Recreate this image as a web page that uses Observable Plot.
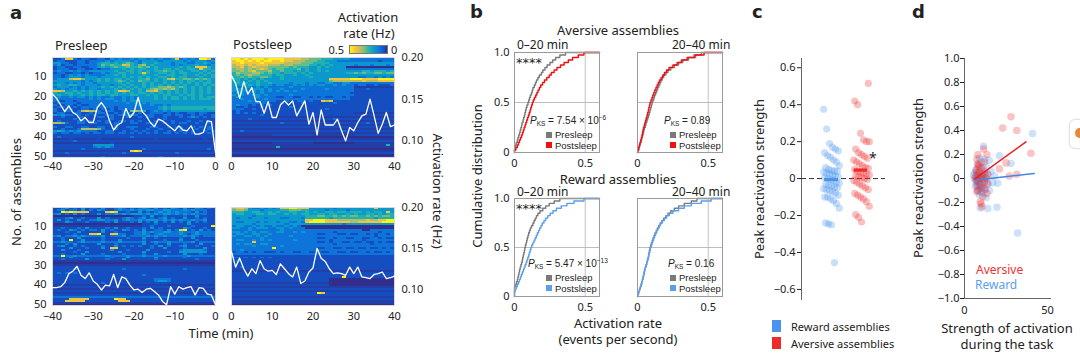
<!DOCTYPE html>
<html><head><meta charset="utf-8">
<script src="https://cdn.jsdelivr.net/npm/d3@7"></script>
<script src="https://cdn.jsdelivr.net/npm/@observablehq/plot@0.6"></script>
<style>
body{margin:0;background:#fff;}
#root{position:relative;width:1080px;height:354px;overflow:hidden;font-family:"Noto Sans",sans-serif;color:#222;}
.t{position:absolute;white-space:nowrap;line-height:1;}
.sq{position:absolute;}
</style></head><body><div id="root"></div>
<script>
// ---------------- DATA ----------------
// heatmap digits: level index per assembly (row) and 1-min bin (column)
const levelsHz = [0.004, 0.022, 0.04, 0.1, 0.17, 0.23, 0.29, 0.35, 0.42, 0.49];
const parulaStops = ["#352a87","#0363e1","#1480d6","#06a2ca","#2eb7a4","#87bf77","#d1bb59","#fec832","#f9fb0e"];

const presleepAversive = [
"2238832332|2332434334|3443434334|8343439983","2332223323|3334344443|4344443444|4434344434",
"4433223323|3455454565|4354454443|4443344543","3423323333|3465655875|4674544443|4344454434",
"2332233223|3454565565|5656454444|4545488854","2333223322|3233444545|4554454554|5445548554",
"3433434334|4444454455|4545455655|4544554545","2332233232|3343445545|4585445545|4554445454",
"3323434343|3334454544|4454454455|4454454545","3323444344|4344444545|4545445545|4554445445",
"3444788644|4545455454|4556454578|5566565654","4444444343|4545456545|4655454545|4545545454",
"3443434344|3444445454|4454544545|4545454554","4544554344|4344344545|4454545454|5454454545",
"3444343434|4454545454|5454556676|5654545454","4343443434|4344454545|4545676767|5454545454",
"8874454545|4545458874|4547785454|5454545454","5445545445|4545454545|4554545454|5454545454",
"4544544545|4554554445|5445454554|4545545444","3433434434|3433433434|3444454545|5454545455",
"3333333334|3434433434|3444454545|5454545554","3223323333|3333343434|4444444444|4444444444",
"2333332333|3333333343|4343444444|4444444444","3223323223|3333333333|3433433434|4444444444",
"2332232333|3333323333|3333334545|5555555555","3223322332|3232323333|3333334545|5555555455",
"3223323787|7323322326|7652343434|4444444444","2332233223|2332232332|2322333232|3223323322",
"4343323232|3223323434|3223322332|3322323223","2232223322|2332322232|2323322322|2323432323",
"2222232222|2222322222|2222222322|2222222222","2322223323|2323223323|2322232223|2223223222",
"7763223322|3223233223|3223322323|2332232232","2222222222|2222232222|2222222222|2222222222",
"3223322332|2332232233|3222332232|3322323232","2232223777|7632232223|2223223222|2322232232",
"4543434333|3223322322|3232232232|2322322323","3233233232|3323323323|2323232332|3232323232",
"2222222222|2222222222|2222222222|2222222222","2322222222|2222222223|2222222222|2222222222",
"1111211111|1211111111|1111121111|1111111211","2222232222|2222222222|2222222222|2222222222",
"1111111111|1111211111|1111111111|1111111111","2222222222|4444422222|2222222222|2222222222",
"2222222222|3434322222|2222222222|2222222222","2222222322|2222222222|2232222222|2222222232",
"1111111111|1111111118|9811111111|1111111111","2223222222|2222222322|2222222222|3222222222",
"1111111111|1111111111|1111111111|1111111111","2222222222|2232222222|2222223222|2222222222"];

const postsleepAversive = [
"9989899989|9998888776|6655544443|3333333333","8998989899|8898877766|6554443333|3333332333",
"8898888988|8887777666|5555444444|4444444444","7887878887|7767766665|5454544444|3444344434",
"7786787776|6666565554|4545444400|0000000000","6776767876|5665556454|4544444433|3333333333",
"6676786667|5565545454|4545444444|4455455545","5766677656|5545554545|4444444455|6565566566",
"5656766555|4554454454|4444444444|4444444444","5565655665|4454444445|4444444444|4334434343",
"5545454544|4454444444|4444888889|9988889999","4544545454|4444444444|4444677777|7787778888",
"4545445445|4444344434|4334433443|3333333333","4444545444|3443343434|3443343433|2332232223",
"4334434343|3333433333|3333333333|1111111111","4443344434|3343333433|3334333333|2223222222",
"4444343434|3434343333|3333333333|2222222222","3443343433|3333333333|3333333332|2222222222",
"4343344343|3333433333|3333333333|2222222222","3433334333|3223322332|3232233232|2222222222",
"3343333343|3333333333|3333333332|2222222222","3333433333|3223223323|2287822222|2222222222",
"3333333332|2232222322|2222232222|2222222222","3433232323|2222222222|2222222222|2222222222",
"3223222322|2222322222|2222222222|2222222222","3332232222|2222222222|2223222222|2222222222",
"2322222222|2222222222|2222222222|2222222222","2323232222|2222222222|2222222222|1111111111",
"2222222322|2222222222|2222222222|2222222222","2222222222|1111111111|1111111111|1111111111",
"2222322222|2222222222|2222232222|2222222222","1111111111|1111111111|1111111111|1111111111",
"2222222222|2232222222|2222222222|2223222222","1111111111|1111111111|1111111111|1111111111",
"2222222222|2222222222|2222222222|2222222222","1111111111|1111111111|1111111111|1111111111",
"2232222222|2222222222|2222222322|2222222222","1111111111|1111111111|1111111111|1111111111",
"1111111111|2222222222|1111111111|2222222222","0000000000|0000000000|0000000000|0000000000",
"1111111111|1111111111|1111111111|1111111111","2222222222|2222222222|2222222222|2222222222",
"0000000000|1111111111|0000000000|1111111111","1111111111|1111111111|1111111111|1111111151",
"1111111111|1511111111|1111111111|1111111111","0000000000|0000000000|0000000000|0000000000",
"1111111111|1111111111|1111111111|1111111111","2222222222|2222222222|2222222222|2222222222",
"0000000000|0000000000|0000000000|0000000000","1111111111|1111111111|1111111111|1111111111"];

const presleepReward = [
"2234232423|3242234323|2343242324|3242243232","2342332423|2432234334|3434433443|3343433322",
"2298988882|2228982232|2423234343|4333242322","3423242322|2423343434|4434343443|4343433322",
"0000000000|0000000000|2232422322|2232242222","2223422322|2423222343|2342323423|2242232322",
"2423224223|3443342343|3434443434|3433433422","2224322232|2223242223|2423242324|2324232322",
"0000000000|0000000000|0022232222|2224222222","1111111111|1111111111|1122322232|2222322229",
"2232223242|2223242232|2232423222|2243222322","2322432323|3242322432|3242233242|3892324232",
"2223224222|2242232222|3343433443|3433343333","2222232228|8922883322|3343234333|3432343333",
"3423343433|3342333423|3334343433|3343432333","2232224222|2232222232|2242232222|2322422222",
"2232922422|2232224222|2232222322|2422232222","3343323433|3343334333|3342343343|3333423333",
"2223242222|2422232222|2242232242|2232224222","2342232322|2232242323|2322324232|2342232223",
"2222422232|2242882222|2222322422|2232222422","2242223222|2222422232|2224222222|2344444322",
"2222232242|2222224222|2242222232|2444444422","2232222422|2232222322|2232242222|2242223222",
"3393343333|3334333343|3343333433|3334333333","2222422222|2222322242|2222242222|2232222222",
"2232222242|2223222422|2222232222|2222232222","1111111111|1111111111|1111111111|1111111111",
"0000000000|0000000000|0000000000|0000000000","1111111111|1111111111|1111111111|1111111111",
"2222222222|2222222222|2222222222|2222222222","2222232222|2222222322|2222222222|2232222222",
"2222222222|2222222222|2222222222|2222222222","2323232222|2222222222|2222222222|2222222222",
"2222222222|2222222222|2232222222|2222222222","2222222222|2222222222|2222222222|2222222222",
"2222222222|2222222222|2222233332|2222222222","2222222222|2222222222|2222234432|2222222222",
"2222222222|2232222222|2222222222|2222222222","1111111111|1111111111|1111111111|1111111111",
"2222222222|2222222222|2222222222|2222222222","1111111111|1111111111|1111111111|1111111111",
"2222222222|2222222222|2222222222|2222222222","1111111111|1111111111|1111111111|1111111111",
"2222222222|2222222222|2222222222|2222222222","3333333333|3333333333|3333333333|3333333333",
"2222888882|2222298822|2222222222|2222222222","2228888822|2222228882|2222222222|2222222222",
"1111111111|1111111111|1111111111|1111111111","0000000000|0000000000|0000000000|0000000000"];

const postsleepReward = [
"7887433434|3488998884|4444434444|4444484444","6776444344|4455666554|4443444434|4444444444",
"5554455445|4544554454|5445545545|5545455484","4554445545|5445454554|4554554454|5445545455",
"4444434444|4444444455|5665565656|6556565665","4344344434|4433444355|5555455555|5555545555",
"4444444444|4444444488|9998887777|7778778899","4334443434|4344334389|9998888887|7888888999",
"4444434444|4443444444|4444444344|4444444444","3443343433|4334343000|0000000000|0000000000",
"4433434443|3443433300|0000000000|0000000000","3333433333|3343333333|3333333333|3300333333",
"4434343443|3443343433|3333323333|3333332333","3443344334|3333333333|3223332232|2332323323",
"4334434343|3333433333|3333333333|3333323333","3333333433|3333333333|3223323322|3322332322",
"3443343434|3333343333|3333233333|3323333333","3333383333|3333333333|3223233223|2232232322",
"3434433443|3333333333|3333323333|3333233333","3333343333|3343333333|3333333333|3333333333",
"3333333333|9333333333|3223322322|3223223232","3343333333|3333333333|3333333333|3333333333",
"2332323322|2323322332|2322332232|2332322323","3333333333|3333333333|3333333333|3333333333",
"2222222222|2222222222|2222222222|2222222222","3323232323|2222222222|2222222222|2222222222",
"2222222222|2222222222|2222222222|2222222222","2322222222|2222222222|2222222222|2222222222",
"2222222222|2222222222|2222222222|2222222222","2222222222|2222222222|2222222222|2222222222",
"2232222222|2222222222|2222222222|2222222222","2222222222|2222222222|2222222222|2222222222",
"1111111111|1111111111|1111111111|1111111111","2222222222|2222222222|2222222222|2222222222",
"2222222222|2222222222|2222222222|2222222222","2222222222|2222222222|2222222922|2222222222",
"2222222222|2222222222|2222000000|0000000000","2222222222|2222222222|2222000000|0000000000",
"1111111111|1111111111|1111000000|0000000000","2222222222|2222222222|2222000000|0000000000",
"1111111111|1111111111|1111111111|1111111111","2222222222|2222222222|2222222222|2222222222",
"1111111111|1111111111|1111111111|1111111111","2222222222|2222222222|2982222222|2222222222",
"2222222222|2222222222|2222222222|2222222222","1111111111|1111111111|1111111111|1111111111",
"2222222222|2222222222|2222222222|2222222222","1111111111|1111111111|1111111111|1111111111",
"1111111111|1111111111|1111111111|1111111111","0000000000|0000000000|0000000000|0000000000"];

// mean activation rate (Hz), one value per minute
const presleepAversiveRate = [0.156,0.151,0.143,0.135,0.142,0.134,0.131,0.124,0.128,0.122,0.122,0.140,0.146,0.139,0.124,0.113,0.119,0.122,0.139,0.128,0.134,0.152,0.135,0.130,0.122,0.117,0.126,0.124,0.120,0.116,0.112,0.118,0.113,0.112,0.118,0.108,0.108,0.110,0.124,0.123,0.086];
const postsleepAversiveRate = [0.178,0.169,0.151,0.171,0.156,0.164,0.147,0.147,0.133,0.147,0.128,0.128,0.143,0.148,0.143,0.148,0.130,0.139,0.148,0.120,0.134,0.107,0.137,0.119,0.119,0.119,0.126,0.112,0.100,0.116,0.112,0.122,0.130,0.132,0.150,0.130,0.109,0.120,0.134,0.117,0.119];
const presleepRewardRate = [0.102,0.102,0.103,0.108,0.119,0.122,0.128,0.117,0.113,0.120,0.110,0.106,0.099,0.105,0.104,0.118,0.102,0.115,0.113,0.105,0.099,0.100,0.096,0.100,0.101,0.097,0.093,0.085,0.081,0.103,0.094,0.103,0.100,0.102,0.103,0.093,0.102,0.101,0.094,0.093,0.081];
const postsleepRewardRate = [0.146,0.127,0.138,0.125,0.116,0.125,0.119,0.135,0.125,0.122,0.123,0.118,0.131,0.125,0.119,0.115,0.127,0.107,0.110,0.121,0.126,0.150,0.138,0.134,0.125,0.119,0.120,0.119,0.117,0.127,0.119,0.127,0.115,0.114,0.113,0.118,0.119,0.121,0.113,0.114,0.116];

// activation rates per assembly (events per second) for the cumulative distributions
const avPre0 = [0,0.003,0.008,0.012,0.02,0.024,0.03,0.036,0.04,0.045,0.05,0.053,0.06,0.064,0.07,0.074,0.078,0.083,0.088,0.095,0.1,0.106,0.112,0.12,0.125,0.13,0.14,0.148,0.155,0.165,0.175,0.19,0.2,0.215,0.23,0.25,0.27,0.29,0.32,0.36];
const avPost0 = [0,0.01,0.02,0.028,0.035,0.042,0.05,0.056,0.062,0.068,0.074,0.08,0.086,0.092,0.098,0.104,0.11,0.115,0.12,0.126,0.132,0.14,0.15,0.158,0.166,0.175,0.185,0.198,0.212,0.228,0.245,0.26,0.28,0.3,0.325,0.35,0.38,0.41,0.45,0.49];
const avPre20 = [0.003,0.01,0.015,0.02,0.026,0.03,0.035,0.04,0.044,0.048,0.055,0.06,0.066,0.072,0.078,0.083,0.088,0.093,0.097,0.102,0.108,0.115,0.12,0.128,0.135,0.142,0.15,0.158,0.165,0.175,0.185,0.2,0.215,0.235,0.26,0.29,0.32,0.36,0.41,0.45];
const avPost20 = [0.002,0.007,0.012,0.017,0.022,0.027,0.031,0.035,0.038,0.042,0.047,0.052,0.057,0.062,0.067,0.072,0.076,0.08,0.084,0.088,0.095,0.102,0.108,0.115,0.122,0.13,0.138,0.146,0.155,0.166,0.178,0.19,0.205,0.222,0.25,0.28,0.31,0.35,0.4,0.47];
const rwPre0 = [0,0,0,0,0.008,0.014,0.02,0.024,0.028,0.032,0.036,0.04,0.045,0.05,0.055,0.058,0.062,0.066,0.07,0.073,0.077,0.082,0.086,0.09,0.095,0.1,0.106,0.112,0.12,0.13,0.138,0.146,0.155,0.165,0.18,0.2,0.22,0.245,0.28,0.32];
const rwPost0 = [0,0,0.005,0.012,0.02,0.028,0.035,0.042,0.048,0.055,0.062,0.068,0.075,0.082,0.088,0.094,0.1,0.105,0.11,0.115,0.122,0.13,0.138,0.146,0.154,0.162,0.17,0.178,0.187,0.196,0.208,0.22,0.235,0.252,0.272,0.296,0.33,0.37,0.42,0.49];
const rwPre20 = [0.002,0.008,0.014,0.02,0.025,0.03,0.035,0.039,0.043,0.046,0.05,0.055,0.06,0.065,0.07,0.074,0.078,0.081,0.084,0.088,0.093,0.098,0.104,0.11,0.117,0.124,0.132,0.14,0.15,0.16,0.172,0.185,0.2,0.215,0.235,0.26,0.29,0.33,0.38,0.42];
const rwPost20 = [0.002,0.007,0.013,0.019,0.024,0.029,0.034,0.038,0.042,0.046,0.05,0.055,0.06,0.065,0.07,0.075,0.079,0.083,0.087,0.091,0.096,0.102,0.108,0.114,0.121,0.128,0.136,0.144,0.153,0.163,0.175,0.19,0.205,0.225,0.25,0.29,0.33,0.38,0.45,0.52];

// peak reactivation strength and task activation strength per assembly
const rewardPeak = [0.375,0.268,0.19,0.17,0.16,0.15,0.14,0.125,0.115,0.10,0.09,0.07,0.06,0.05,0.045,0.04,0.04,0.035,0.03,0.025,0.02,0.015,0.01,0.005,0,-0.005,-0.01,-0.02,-0.025,-0.03,-0.035,-0.04,-0.045,-0.05,-0.055,-0.06,-0.065,-0.07,-0.08,-0.09,-0.1,-0.1,-0.11,-0.12,-0.135,-0.16,-0.24,-0.245,-0.25,-0.455];
const rewardTask = [41,11.5,21,9,12,15,10,28,8,13,11,7,16,9,6,12,14,8,10,5.5,18,7,11,9,13,6,10,8,12,7,17,20,9,14,8,11,6.5,10,9,12,8,15,10,11,9,13,19.5,9.5,14,32];
const aversivePeak = [0.515,0.42,0.40,0.245,0.21,0.2,0.2,0.16,0.14,0.13,0.12,0.11,0.1,0.09,0.08,0.07,0.06,0.055,0.05,0.04,0.035,0.03,0.025,0.02,0.015,0.01,0.005,0,-0.005,-0.01,-0.02,-0.03,-0.04,-0.05,-0.06,-0.08,-0.09,-0.1,-0.11,-0.125,-0.15,-0.195,-0.21,-0.235];
const aversiveTask = [28,23,31.5,11.5,40,13.5,8,7.5,12,25,8,9,8.5,10,21,7,12,9,7.5,11,31.5,14,8,27,10,6.5,13,9,11,7,8,12,14,9.5,7.5,10.5,12.5,8,7.5,13.5,11,9.5,10,10.5];
const aversiveFitTask = [6, 37], aversiveFitPeak = [-0.005, 0.305];
const rewardFitTask = [6, 42], rewardFitPeak = [-0.014, 0.042];

const BLUE = "#4a94ee", RED = "#ee2a2a", GRAY = "#7a7a7a";
const FONT = '"Noto Sans", sans-serif';
const SMALLFONT = '"Liberation Sans", Arial, sans-serif';

// ---------------- HELPERS ----------------
const root = document.getElementById("root");
function place(svg, left, top) {
  Object.assign(svg.style, {position: "absolute", left: left + "px", top: top + "px"});
  root.appendChild(svg);
}
function txt(html, x, y, o = {}) {
  const d = document.createElement("div");
  d.className = "t"; d.innerHTML = html;
  d.style.left = x + "px"; d.style.top = y + "px";
  d.style.fontSize = (o.size || 11) + "px";
  if (o.color) d.style.color = o.color;
  if (o.weight) d.style.fontWeight = o.weight;
  if (o.family) d.style.fontFamily = o.family;
  const tx = o.anchor === "middle" || o.rotate ? "-50%" : o.anchor === "end" ? "-100%" : "0";
  d.style.transform = `translate(${tx},-50%)` + (o.rotate ? ` rotate(${o.rotate}deg)` : "");
  root.appendChild(d);
}
function sq(x, y, w, h, c) {
  const d = document.createElement("div"); d.className = "sq";
  Object.assign(d.style, {left: x + "px", top: y + "px", width: w + "px", height: h + "px", background: c});
  root.appendChild(d);
}
const style = {background: "transparent", fontFamily: FONT, fontSize: "11px", color: "#222", overflow: "visible"};
const norm = r => { const s = r.replace(/\|/g, ""); return s.padEnd(40, s[s.length - 1]).slice(0, 40); };
const parula = d3.piecewise(d3.interpolateRgb, parulaStops);
const fmtSigned = d => Math.abs(d) < 1e-9 ? "0" : (d < 0 ? "\u2212" : "") + Math.abs(d).toFixed(1);

// ---------------- PANEL a ----------------
function heat(rows, rates, xdom, g, yAxis, rightAxis, xpad) {
  const grid = rows.flatMap(r => [...norm(r)].map(ch => levelsHz[+ch]));
  const {left, top, ...m} = g;
  place(Plot.plot({
    ...m, style,
    x: {domain: xdom, ticks: d3.range(xdom[0], xdom[1] + 1, 10), tickSize: 0, tickPadding: xpad, label: null},
    y: {domain: [0.5, 50.5], reverse: true, ticks: [10, 20, 30, 40, 50], tickSize: 0, tickPadding: 6, label: null, axis: yAxis ? "left" : null},
    color: {type: "linear", domain: [0, 0.5], interpolate: parula},
    marks: [
      Plot.raster(grid, {width: 40, height: 50, x1: xdom[0], x2: xdom[1], y1: 0.5, y2: 50.5, fill: d => d, imageRendering: "pixelated"}),
      Plot.frame({stroke: "#d8d8d8"})
    ]
  }), left, top);
  const times = d3.range(xdom[0], xdom[1] + 1);
  place(Plot.plot({
    ...m, style,
    x: {domain: xdom, axis: null},
    y: {domain: [0.08, 0.2], axis: rightAxis ? "right" : null, ticks: [0.1, 0.15, 0.2], tickFormat: ".2f", tickSize: 0, tickPadding: 7, label: null},
    marks: [Plot.line(rates, {x: (d, i) => times[i], y: d => d, stroke: "white", strokeWidth: 1.3})]
  }), left, top);
}
heat(presleepAversive, presleepAversiveRate, [-40, 0], {left: 0, top: 40, width: 230, height: 140, marginLeft: 52, marginRight: 15, marginTop: 17, marginBottom: 23}, true, false, 5);
heat(postsleepAversive, postsleepAversiveRate, [0, 40], {left: 221, top: 40, width: 190, height: 140, marginLeft: 10, marginRight: 17, marginTop: 17, marginBottom: 23}, false, true, 5);
heat(presleepReward, presleepRewardRate, [-40, 0], {left: 0, top: 190, width: 230, height: 130, marginLeft: 52, marginRight: 15, marginTop: 17, marginBottom: 15}, true, false, 7);
heat(postsleepReward, postsleepRewardRate, [0, 40], {left: 221, top: 190, width: 190, height: 130, marginLeft: 10, marginRight: 17, marginTop: 17, marginBottom: 15}, false, true, 7);

txt("a", 10, 13, {size: 18, weight: 900, family: '"DejaVu Sans", sans-serif'});
txt("Presleep", 55, 45, {size: 13});
txt("Postsleep", 233, 44, {size: 13});
txt("Activation", 368, 17, {size: 13, anchor: "middle"});
txt("rate (Hz)", 369, 33, {size: 13, anchor: "middle"});
txt("0.5", 344, 49, {size: 11, anchor: "end"});
txt("0", 391, 49, {size: 11});
{
  const bar = document.createElement("div");
  Object.assign(bar.style, {position: "absolute", left: "350px", top: "46px", width: "37px", height: "7px",
    background: `linear-gradient(to left, ${parulaStops.join(",")})`, outline: "1px solid #777"});
  root.appendChild(bar);
}
txt("No. of assemblies", 16, 192, {size: 13, rotate: -90});
txt("Time (min)", 221, 333, {size: 13, anchor: "middle"});
txt("Activation rate (Hz)", 437, 191, {size: 13, rotate: 90});

// ---------------- PANEL b ----------------
function ecdf(vals) {
  const s = [...vals].sort((a, b) => a - b), n = s.length;
  return [{x: 0, y: 0}, ...s.map((v, i) => ({x: v, y: (i + 1) / n})), {x: 0.6, y: 1}];
}
function cdfPlot(pre, post, postColor, g, showY) {
  const {left, top, ...m} = g;
  place(Plot.plot({
    ...m, style,
    x: {domain: [0, 0.6], ticks: [0, 0.5], tickFormat: d => d === 0 ? "0" : "0.5", tickSize: 0, tickPadding: 7, label: null},
    y: {domain: [0, 1], ticks: [0, 0.5, 1], tickFormat: d => d === 0 ? "0" : d === 1 ? "1.0" : "0.5", tickSize: 0, tickPadding: 5, label: null, axis: showY ? "left" : null},
    marks: [
      Plot.ruleX([0.5], {stroke: "#d4d4d4", strokeWidth: 1.5}),
      Plot.ruleY([0.5], {stroke: "#bdbdbd"}),
      Plot.line(ecdf(pre), {x: "x", y: "y", curve: "step-after", stroke: GRAY, strokeWidth: 1.4}),
      Plot.line(ecdf(post), {x: "x", y: "y", curve: "step-after", stroke: postColor, strokeWidth: 1.4}),
      Plot.frame({stroke: "#9a9a9a"})
    ]
  }), left, top);
}
cdfPlot(avPre0, avPost0, "#f01010", {left: 470, top: 40, width: 140, height: 135, marginLeft: 44, marginRight: 11, marginTop: 12, marginBottom: 23}, true);
cdfPlot(avPre20, avPost20, "#f01010", {left: 620, top: 40, width: 115, height: 135, marginLeft: 17, marginRight: 13, marginTop: 12, marginBottom: 23}, false);
cdfPlot(rwPre0, rwPost0, "#5a9ff0", {left: 470, top: 186, width: 140, height: 130, marginLeft: 44, marginRight: 11, marginTop: 12, marginBottom: 20}, true);
cdfPlot(rwPre20, rwPost20, "#5a9ff0", {left: 620, top: 186, width: 115, height: 130, marginLeft: 17, marginRight: 13, marginTop: 12, marginBottom: 20}, false);

txt("b", 470, 12, {size: 18, weight: 900, family: '"DejaVu Sans", sans-serif'});
txt("Aversive assemblies", 618, 30, {size: 13, anchor: "middle"});
txt("Reward assemblies", 618, 179, {size: 13, anchor: "middle"});
txt("0\u201320 min", 517, 45, {size: 12});
txt("20\u201340 min", 672, 45, {size: 12});
txt("0\u201320 min", 517, 192, {size: 12});
txt("20\u201340 min", 672, 192, {size: 12});
txt("****", 516, 62, {size: 13, family: '"DejaVu Sans", sans-serif'});
txt("****", 516, 208, {size: 13, family: '"DejaVu Sans", sans-serif'});
const pks = v => `<i>P</i><span style="font-size:6.5px;position:relative;top:2px">KS</span> = ${v}`;
const sup = e => `<span style="font-size:6.5px;position:relative;top:-4px">${e}</span>`;
txt(pks("7.54 \u00d7 10" + sup("\u22126")), 530, 121, {size: 10, family: SMALLFONT});
txt(pks("0.89"), 664, 121, {size: 10, family: SMALLFONT});
txt(pks("5.47 \u00d7 10" + sup("\u221213")), 528, 264, {size: 10, family: SMALLFONT});
txt(pks("0.16"), 668, 264, {size: 10, family: SMALLFONT});
function legendB(x, y, c2) {
  sq(x, y, 6, 6, GRAY); sq(x, y + 10.5, 6, 6, c2);
  txt("Presleep", x + 9, y + 3, {size: 9.5, family: SMALLFONT});
  txt("Postsleep", x + 9, y + 14, {size: 9.5, family: SMALLFONT});
}
legendB(546, 131.5, "#f01010"); legendB(670, 131.5, "#f01010");
legendB(546, 274.5, "#5a9ff0"); legendB(670, 274.5, "#5a9ff0");
txt("Cumulative distribution", 477, 176, {size: 13, rotate: -90});
txt("Activation rate", 618, 323, {size: 13, anchor: "middle"});
txt("(events per second)", 618, 339, {size: 13, anchor: "middle"});

// ---------------- PANEL c ----------------
const jit = i => (((i * 37) % 17) / 16 - 0.5) * 0.52;
const cData = [
  ...rewardPeak.map((v, i) => ({g: "Reward", x: 1 + jit(i), v})),
  ...aversivePeak.map((v, i) => ({g: "Aversive", x: 2 + jit(i + 5), v}))
];
const rMean = d3.mean(rewardPeak), aMean = d3.mean(aversivePeak);
place(Plot.plot({
  width: 135, height: 270, marginLeft: 41, marginRight: 10, marginTop: 18, marginBottom: 10, style,
  x: {domain: [0, 2.8], axis: null},
  y: {domain: [-0.66, 0.65], ticks: [-0.6, -0.4, -0.2, 0, 0.2, 0.4, 0.6], tickFormat: fmtSigned, tickSize: 4, tickPadding: 2, label: null},
  marks: [
    Plot.ruleX([0], {stroke: "#666"}),
    Plot.ruleY([0], {stroke: "#333", strokeDasharray: "5,3"}),
    Plot.dot(cData, {x: "x", y: "v", r: 3.6, fill: d => d.g === "Reward" ? BLUE : RED, fillOpacity: 0.3, stroke: "none"}),
    Plot.ruleY([rMean], {x1: 0.77, x2: 1.23, stroke: BLUE, strokeWidth: 3.2}),
    Plot.ruleY([aMean], {x1: 1.75, x2: 2.2, stroke: RED, strokeWidth: 3.2})
  ]
}), 760, 40);
txt("c", 752, 12, {size: 18, weight: 900, family: '"DejaVu Sans", sans-serif'});
txt("*", 869, 158, {size: 14});
txt("Peak reactivation strength", 759, 179, {size: 13, rotate: -90});
sq(772, 320, 9, 12, BLUE); sq(772, 337, 9, 12, RED);
txt("Reward assemblies", 791, 326, {size: 11});
txt("Aversive assemblies", 791, 343, {size: 11});

// ---------------- PANEL d ----------------
const dReward = rewardPeak.map((v, i) => ({task: rewardTask[i], v}));
const dAversive = aversivePeak.map((v, i) => ({task: aversiveTask[i], v}));
place(Plot.plot({
  width: 150, height: 285, marginLeft: 49, marginRight: 14, marginTop: 18, marginBottom: 27, style,
  x: {domain: [0, 52.4], ticks: [0, 50], tickSize: 0, tickPadding: 8, label: null},
  y: {domain: [-1, 1], ticks: [-1, -0.8, -0.6, -0.4, -0.2, 0, 0.2, 0.4, 0.6, 0.8, 1], tickFormat: fmtSigned, tickSize: 4, tickPadding: 1, label: null},
  marks: [
    Plot.ruleX([0], {stroke: "#666"}),
    Plot.ruleY([-1], {stroke: "#666"}),
    Plot.dot(dReward, {x: "task", y: "v", r: 3.8, fill: BLUE, fillOpacity: 0.28, stroke: "none"}),
    Plot.dot(dAversive, {x: "task", y: "v", r: 3.8, fill: RED, fillOpacity: 0.28, stroke: "none"}),
    Plot.line(aversiveFitTask, {x: d => d, y: (d, i) => aversiveFitPeak[i], stroke: "#ee1c1c", strokeWidth: 1.5}),
    Plot.line(rewardFitTask, {x: d => d, y: (d, i) => rewardFitPeak[i], stroke: "#3f88e6", strokeWidth: 1.5})
  ]
}), 915, 40);
txt("d", 912, 12, {size: 18, weight: 900, family: '"DejaVu Sans", sans-serif'});
txt("Peak reactivation strength", 918, 178, {size: 13, rotate: -90});
txt("Aversive", 976, 270, {size: 12, color: "#f03030"});
txt("Reward", 975, 285, {size: 12, color: "#5a9ff0"});
txt("Strength of activation", 1007, 328, {size: 13, anchor: "middle"});
txt("during the task", 1007, 344, {size: 13, anchor: "middle"});
{
  const b = document.createElement("div");
  Object.assign(b.style, {position: "absolute", left: "1069px", top: "119px", width: "24px", height: "28px",
    border: "1px solid #e2e2e2", borderRadius: "6px", background: "#fff", boxShadow: "0 0 2px rgba(0,0,0,0.08)"});
  const o = document.createElement("div");
  Object.assign(o.style, {position: "absolute", left: "5px", top: "8px", width: "9px", height: "10px", borderRadius: "50%", background: "#e8873a"});
  b.appendChild(o); root.appendChild(b);
}
</script></body></html>
